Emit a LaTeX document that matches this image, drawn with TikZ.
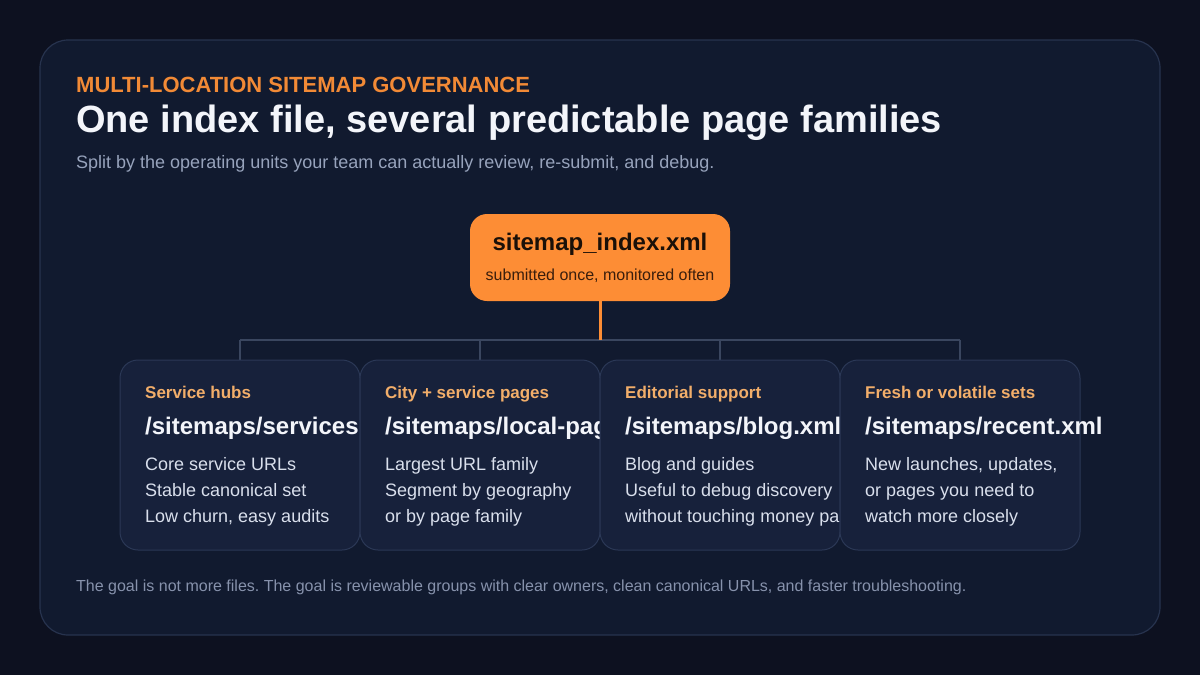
\documentclass[tikz,border=0pt]{standalone}
\usepackage{fontspec}
\setmainfont{Liberation Sans}
\frenchspacing
\definecolor{bgout}{HTML}{0D1120}
\definecolor{panel}{HTML}{111A2F}
\definecolor{panelline}{HTML}{27334E}
\definecolor{eyebrow}{HTML}{F28A36}
\definecolor{boxor}{HTML}{FD8D35}
\definecolor{boxtext}{HTML}{1B1008}
\definecolor{boxsub}{HTML}{3A1E0C}
\definecolor{cardfill}{HTML}{17213B}
\definecolor{cardline}{HTML}{2B3856}
\definecolor{cardlabel}{HTML}{F2AE6A}
\definecolor{titlecol}{HTML}{F3F5FA}
\definecolor{bodycol}{HTML}{D9DFEC}
\definecolor{muted}{HTML}{97A3BC}
\definecolor{footcol}{HTML}{8792AC}
\definecolor{buscol}{HTML}{3A465F}
\tikzset{
  txt/.style={anchor=base west, inner sep=0pt},
  cardbox/.style={draw=cardline, fill=cardfill, line width=1pt, rounded corners=18pt,
    minimum width=240pt, minimum height=190pt, inner sep=0pt},
  lbl/.style={txt, text=cardlabel, font=\fontsize{17}{20}\selectfont\bfseries},
  pth/.style={txt, text=titlecol, font=\fontsize{24}{28}\selectfont\bfseries},
  bdy/.style={txt, text=bodycol, font=\fontsize{18}{21}\selectfont},
  busline/.style={draw=buscol, line width=2pt},
}
\newcommand\mycard[7]{%
  \node[cardbox] (c#1) at ({#2+120},455) {};
  \begin{scope}
  \clip[rounded corners=18pt] ({#2},360) rectangle ({#2+240},550);
  \node[lbl] (c#1a) at ({#2+25},398) {#3};
  \node[pth] (c#1b) at ({#2+25},434.5) {#4};
  \node[bdy] (c#1c) at ({#2+25},470.5) {#5};
  \node[bdy] (c#1d) at ({#2+25},496.5) {#6};
  \node[bdy] (c#1e) at ({#2+25},522.5) {#7};
  \end{scope}
}
\begin{document}
\begin{tikzpicture}[x=1pt,y=-1pt]
\fill[bgout] (0,0) rectangle (1200,675);
\useasboundingbox (0,0) rectangle (1200,675);
\draw[panelline, fill=panel, line width=1.2pt, rounded corners=28pt] (40,40) rectangle (1160,635);

\node[txt, text=eyebrow, font=\fontsize{22}{26}\selectfont\bfseries] (eyb) at (76,92.5) {MULTI-LOCATION SITEMAP GOVERNANCE};
\node[txt, text=titlecol, font=\fontsize{38}{44}\selectfont\bfseries] (ttl) at (76,132) {One index file, several predictable page families};
\node[txt, text=muted, font=\fontsize{18}{21}\selectfont] (sub) at (76,168) {Split by the operating units your team can actually review, re-submit, and debug.};

% index box
\node[fill=boxor, rounded corners=17pt, minimum width=260pt, minimum height=87pt, inner sep=0pt] (idx) at (600,257.5) {};
\node[anchor=base, inner sep=0pt, text=boxtext, font=\fontsize{24}{28}\selectfont\bfseries] (idxt) at (600,250) {sitemap\_index.xml};
\node[anchor=base, inner sep=0pt, text=boxsub, font=\fontsize{16}{19}\selectfont] (idxs) at (600,280) {submitted once, monitored often};

% bus
\coordinate (hub) at (600,340);
\coordinate (b1) at (240,340);
\coordinate (b2) at (480,340);
\coordinate (b3) at (720,340);
\coordinate (b4) at (960,340);
\draw[busline] (b1) -- (b4);
\draw[busline] (b1) -- (240,361);
\draw[busline] (b2) -- (480,361);
\draw[busline] (b3) -- (720,361);
\draw[busline] (b4) -- (960,361);
\draw[draw=boxor, line width=3pt] (idx.south) -- (hub);

\mycard{1}{120}{Service hubs}{/sitemaps/services.xml}{Core service URLs}{Stable canonical set}{Low churn, easy audits}
\mycard{2}{360}{City + service pages}{/sitemaps/local-pages.xml}{Largest URL family}{Segment by geography}{or by page family}
\mycard{3}{600}{Editorial support}{/sitemaps/blog.xml}{Blog and guides}{Useful to debug discovery}{without touching money pages}
\node[cardbox] (c4) at (960,455) {};
\node[lbl] (c4a) at (865,398) {Fresh or volatile sets};
\node[pth] (c4b) at (865,434.5) {/sitemaps/recent.xml};
\node[bdy] (c4c) at (865,470.5) {New launches, updates,};
\node[bdy] (c4d) at (865,496.5) {or pages you need to};
\node[bdy] (c4e) at (865,522.5) {watch more closely};

\node[txt, text=footcol, font=\fontsize{16}{19}\selectfont] (foot) at (76,591) {The goal is not more files. The goal is reviewable groups with clear owners, clean canonical URLs, and faster troubleshooting.};
\end{tikzpicture}
\end{document}
